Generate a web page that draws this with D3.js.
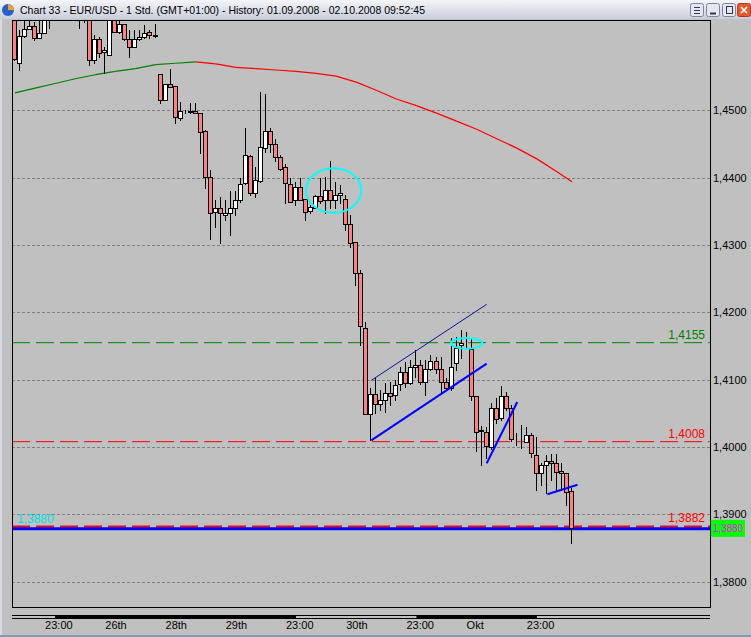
<!DOCTYPE html>
<html>
<head>
<meta charset="utf-8">
<script src="https://cdn.jsdelivr.net/npm/d3@7"></script>
<style>
html, body { margin: 0; padding: 0; background: #c0c0c0; overflow: hidden; }
svg { display: block; }
text { font-family: "Liberation Sans", Arial, sans-serif; }
</style>
</head>
<body>
<svg id="chart"></svg>
<script>
// hourly EUR/USD candles (index 0 = left edge)
const openP = [1.4649,1.4570,1.4611,1.4621,1.4625,1.4608,1.4615,1.4660,1.4652,1.4665,
  1.4680,1.4668,1.4655,1.4645,1.4640,1.4650,1.4575,1.4606,1.4587,1.4582,
  1.4645,1.4616,1.4628,1.4606,1.4594,1.4606,1.4609,1.4616,1.4612,1.4554,
  1.4515,1.4539,1.4536,1.4489,1.4498,1.4498,1.4499,1.4496,1.4469,1.4401,
  1.4349,1.4355,1.4345,1.4348,1.4355,1.4367,1.4392,1.4432,1.4377,1.4395,
  1.4444,1.4469,1.4450,1.4431,1.4416,1.4391,1.4367,1.4386,1.4368,1.4350,
  1.4355,1.4373,1.4367,1.4382,1.4367,1.4374,1.4368,1.4331,1.4304,1.4258,
  1.4177,1.4049,1.4079,1.4064,1.4070,1.4080,1.4077,1.4093,1.4111,1.4095,
  1.4119,1.4122,1.4096,1.4116,1.4128,1.4116,1.4096,1.4087,1.4125,1.4151,
  1.4154,1.4145,1.4076,1.4025,1.4022,1.4000,1.4058,1.4043,1.4076,1.4058,
  1.4007,1.4008,1.4007,1.4018,1.3988,1.3961,1.3973,1.3979,1.3976,1.3964,
  1.3961,1.3934];
const highP = [1.4657,1.4619,1.4642,1.4640,1.4631,1.4649,1.4657,1.4668,1.4672,1.4688,
  1.4695,1.4675,1.4662,1.4655,1.4660,1.4658,1.4612,1.4609,1.4594,1.4655,
  1.4650,1.4637,1.4628,1.4619,1.4619,1.4619,1.4627,1.4619,1.4628,1.4554,
  1.4539,1.4562,1.4536,1.4512,1.4500,1.4511,1.4511,1.4496,1.4471,1.4411,
  1.4367,1.4371,1.4367,1.4380,1.4380,1.4400,1.4474,1.4434,1.4416,1.4527,
  1.4524,1.4474,1.4458,1.4434,1.4420,1.4400,1.4394,1.4400,1.4368,1.4359,
  1.4374,1.4400,1.4401,1.4425,1.4394,1.4389,1.4374,1.4345,1.4304,1.4263,
  1.4186,1.4087,1.4102,1.4085,1.4095,1.4096,1.4099,1.4119,1.4126,1.4129,
  1.4144,1.4129,1.4129,1.4137,1.4134,1.4134,1.4102,1.4162,1.4163,1.4174,
  1.4171,1.4162,1.4076,1.4031,1.4030,1.4065,1.4073,1.4090,1.4082,1.4062,
  1.4021,1.4033,1.4030,1.4021,1.4015,1.3977,1.3988,1.3989,1.3989,1.3976,
  1.3961,1.3939];
const lowP = [1.4575,1.4560,1.4609,1.4621,1.4605,1.4608,1.4615,1.4622,1.4645,1.4658,
  1.4662,1.4648,1.4640,1.4622,1.4631,1.4567,1.4570,1.4579,1.4556,1.4582,
  1.4616,1.4615,1.4605,1.4579,1.4594,1.4605,1.4608,1.4608,1.4609,1.4511,
  1.4515,1.4535,1.4481,1.4486,1.4496,1.4496,1.4496,1.4437,1.4385,1.4309,
  1.4327,1.4303,1.4337,1.4315,1.4345,1.4364,1.4391,1.4374,1.4371,1.4394,
  1.4438,1.4438,1.4425,1.4411,1.4362,1.4364,1.4359,1.4367,1.4337,1.4348,
  1.4355,1.4362,1.4348,1.4355,1.4355,1.4362,1.4322,1.4297,1.4241,1.4151,
  1.4049,1.4010,1.4050,1.4055,1.4052,1.4062,1.4070,1.4085,1.4089,1.4093,
  1.4104,1.4093,1.4077,1.4114,1.4110,1.4080,1.4085,1.4085,1.4114,1.4132,
  1.4148,1.4070,1.3994,1.3974,1.3983,1.3997,1.4035,1.4040,1.4055,1.4009,
  1.4003,1.3998,1.4007,1.3985,1.3936,1.3943,1.3931,1.3951,1.3936,1.3936,
  1.3914,1.3857];
const closeP = [1.4576,1.4611,1.4621,1.4625,1.4608,1.4615,1.4649,1.4652,1.4665,1.4680,
  1.4668,1.4655,1.4645,1.4640,1.4652,1.4575,1.4606,1.4585,1.4590,1.4645,
  1.4616,1.4628,1.4606,1.4594,1.4606,1.4609,1.4615,1.4612,1.4611,1.4515,
  1.4539,1.4535,1.4490,1.4499,1.4498,1.4499,1.4496,1.4468,1.4401,1.4348,
  1.4355,1.4348,1.4348,1.4355,1.4367,1.4391,1.4434,1.4377,1.4397,1.4446,
  1.4469,1.4450,1.4431,1.4413,1.4392,1.4364,1.4386,1.4367,1.4349,1.4356,
  1.4373,1.4365,1.4382,1.4367,1.4374,1.4377,1.4331,1.4303,1.4258,1.4180,
  1.4049,1.4079,1.4064,1.4070,1.4080,1.4076,1.4092,1.4111,1.4095,1.4119,
  1.4122,1.4096,1.4116,1.4128,1.4116,1.4096,1.4087,1.4119,1.4147,1.4154,
  1.4155,1.4076,1.4022,1.4024,1.4001,1.4058,1.4041,1.4076,1.4058,1.4012,
  1.4008,1.4007,1.4018,1.3991,1.3961,1.3973,1.3979,1.3976,1.3963,1.3961,
  1.3933,1.3880];

// moving average, sampled every few bars
const maIdx = [0,4,8,12,16,20,24,28,32,36,40,44,48,52,56,60,64,68,72,76,80,84,88,92,96,100,104,108,111];
const maVal = [1.4526,1.4533,1.4540,1.4547,1.4553,1.4558,1.4562,1.4568,1.4570,1.4572,
  1.4569,1.4564,1.4562,1.4560,1.4558,1.4555,1.4551,1.4542,1.4530,1.4517,
  1.4507,1.4496,1.4484,1.4472,1.4458,1.4444,1.4428,1.4409,1.4394];

const gridPrices = [1.38,1.39,1.40,1.41,1.42,1.43,1.44,1.45];
const tickIdx = [6,18,30,42,54,66,78,90,102];
const tickLabels = ["23:00","26th","28th","29th","23:00","30th","23:00","Okt","23:00"];

const levelPrices = [1.4155,1.4008,1.3882];
const levelLabels = ["1,4155","1,4008","1,3882"];
const supportPrice = 1.3880;

// drawn trend lines: [startIdx, startPrice, endIdx, endPrice]
const channelTop = [71,1.4099,94,1.4212];
const trendLines = [[71,1.4010,94,1.4124],[94,1.3976,100.1,1.4067],[106.1,1.3930,112.1,1.3944]];
// marked areas: [centerIdx, centerPrice, halfWidthBars, halfHeightPrice]
const marks = [[63.5,1.4381,5.5,0.0033],[90,1.4154,3.1,0.0008]];

const dayBands = [[8,56],[80,104]];

const title = "Chart 33 - EUR/USD - 1 Std. (GMT+01:00) - History: 01.09.2008 - 02.10.2008 09:52:45";

const W = 751, H = 637;
const P = {l: 12, t: 20, r: 710, b: 607};
const svg = d3.select("#chart").attr("width", W).attr("height", H);

const x = d3.scaleLinear().domain([0, openP.length - 1]).range([15, 572]);
const y = d3.scaleLinear().domain([1.38, 1.45]).range([581.7, 110.4]);
const fmt = p => d3.format(".4f")(p).replace(".", ",");

svg.append("rect").attr("width", W).attr("height", H).attr("fill", "#c0c0c0");

// title bar
const grad = svg.append("defs").append("linearGradient").attr("id", "tb")
    .attr("x1", 0).attr("y1", 0).attr("x2", 0).attr("y2", 1);
grad.append("stop").attr("offset", "0%").attr("stop-color", "#f4f5f9");
grad.append("stop").attr("offset", "100%").attr("stop-color", "#c9cedb");
svg.append("rect").attr("width", W).attr("height", 19).attr("fill", "url(#tb)");
svg.append("circle").attr("cx", 8).attr("cy", 10).attr("r", 6).attr("fill", "#2a5fc8");
svg.append("path").attr("d", "M8,10 L8,4 A6,6 0 0,1 14,10 Z").attr("fill", "#f0a030");
svg.append("text").attr("x", 20).attr("y", 14).attr("font-size", 11)
    .attr("textLength", 405).attr("lengthAdjust", "spacingAndGlyphs")
    .attr("fill", "#000").text(title);

const btnX = [690, 706, 722, 737];
btnX.forEach((bx, k) => {
    svg.append("rect").attr("x", bx + 0.5).attr("y", 3.5).attr("width", 13).attr("height", 13)
        .attr("rx", 2).attr("fill", k === 3 ? "#e8582e" : "#e4e7ef")
        .attr("stroke", k === 3 ? "#b03a1a" : "#7c84a0");
});
svg.append("path").attr("d", "M694,7.5h6M694,10.5h6M694,13.5h6").attr("stroke", "#303850");
svg.append("path").attr("d", "M710,13.5h6").attr("stroke", "#303850").attr("stroke-width", 2);
svg.append("rect").attr("x", 726.5).attr("y", 6.5).attr("width", 6).attr("height", 7)
    .attr("fill", "none").attr("stroke", "#303850");
svg.append("path").attr("d", "M741,7L747,13M747,7L741,13").attr("stroke", "#fff").attr("stroke-width", 1.6);

// window edges
svg.append("rect").attr("x", 0).attr("y", 19).attr("width", 2).attr("height", H - 19).attr("fill", "#d8dbe4");
svg.append("rect").attr("x", 0).attr("y", H - 2).attr("width", W).attr("height", 2).attr("fill", "#7f9db9");

// plot
svg.append("defs").append("clipPath").attr("id", "clip")
    .append("rect").attr("x", P.l).attr("y", P.t).attr("width", P.r - P.l).attr("height", P.b - P.t);
const g = svg.append("g").attr("clip-path", "url(#clip)");

g.selectAll(".grid").data(gridPrices).enter().append("line")
    .attr("x1", P.l).attr("x2", P.r)
    .attr("y1", d => Math.round(y(d)) + 0.5).attr("y2", d => Math.round(y(d)) + 0.5)
    .attr("stroke", "#808080").attr("stroke-dasharray", "3,2");

// moving average, green while rising, red while falling
const maPts = maIdx.map((d, k) => [x(d), y(maVal[k])]);
g.selectAll(".ma").data(d3.pairs(maPts)).enter().append("line")
    .attr("x1", d => d[0][0]).attr("y1", d => d[0][1])
    .attr("x2", d => d[1][0]).attr("y2", d => d[1][1])
    .attr("stroke", d => d[1][1] <= d[0][1] ? "#008000" : "#ff0000")
    .attr("stroke-width", 1.2);

// horizontal levels
const levelColor = ["#008000", "#ff0000", "#ff0000"];
const levelWidth = [1, 1, 2];
levelPrices.forEach((p, k) => {
    g.append("line").attr("x1", P.l).attr("x2", P.r)
        .attr("y1", y(p)).attr("y2", y(p))
        .attr("stroke", levelColor[k]).attr("stroke-width", levelWidth[k])
        .attr("stroke-dasharray", "18,6");
});
g.append("line").attr("x1", P.l).attr("x2", P.r)
    .attr("y1", y(supportPrice) + 1).attr("y2", y(supportPrice) + 1)
    .attr("stroke", "#0000ff").attr("stroke-width", 3);

// candles
const idx = d3.range(openP.length);
const cx = i => Math.round(x(i));
g.selectAll(".wick").data(idx).enter().append("line")
    .attr("x1", i => cx(i) - 0.5).attr("x2", i => cx(i) - 0.5)
    .attr("y1", i => Math.round(y(highP[i]))).attr("y2", i => Math.round(y(lowP[i])) + 1)
    .attr("stroke", "#000");
g.selectAll(".body").data(idx).enter().append("rect")
    .attr("x", i => cx(i) - 2.5)
    .attr("y", i => Math.round(y(Math.max(openP[i], closeP[i]))) + 0.5)
    .attr("width", 4)
    .attr("height", i => Math.round(y(Math.min(openP[i], closeP[i]))) - Math.round(y(Math.max(openP[i], closeP[i]))))
    .attr("fill", i => closeP[i] >= openP[i] ? "#ffffff" : "#ff8080")
    .attr("stroke", "#000");

// trend lines and marks
g.append("line")
    .attr("x1", x(channelTop[0])).attr("y1", y(channelTop[1]))
    .attr("x2", x(channelTop[2])).attr("y2", y(channelTop[3]))
    .attr("stroke", "#1010a0").attr("stroke-width", 1);
g.selectAll(".trend").data(trendLines).enter().append("line")
    .attr("x1", d => x(d[0])).attr("y1", d => y(d[1]))
    .attr("x2", d => x(d[2])).attr("y2", d => y(d[3]))
    .attr("stroke", "#0000ff").attr("stroke-width", 2);
g.selectAll(".mark").data(marks).enter().append("ellipse")
    .attr("cx", d => x(d[0])).attr("cy", d => y(d[1]))
    .attr("rx", d => x(d[0] + d[2]) - x(d[0]))
    .attr("ry", d => y(d[1] - d[3]) - y(d[1]))
    .attr("fill", "none").attr("stroke", "#00ffff").attr("stroke-width", 2);

// level labels
levelPrices.forEach((p, k) => {
    g.append("text").attr("x", 705).attr("y", y(p) - 4).attr("text-anchor", "end")
        .attr("font-size", 12).attr("fill", levelColor[k]).text(levelLabels[k]);
});
g.append("text").attr("x", 17).attr("y", y(supportPrice) - 5)
    .attr("font-size", 12).attr("fill", "#00e0e0").text(fmt(supportPrice));

// frame
svg.append("rect").attr("x", P.l + 0.5).attr("y", P.t + 0.5)
    .attr("width", P.r - P.l).attr("height", P.b - P.t)
    .attr("fill", "none").attr("stroke", "#000");

// price axis
svg.selectAll(".ylab").data(gridPrices).enter().append("text")
    .attr("x", 713).attr("y", d => y(d) + 4).attr("font-size", 11)
    .attr("fill", "#000").text(fmt);
const last = closeP[closeP.length - 1];
svg.append("rect").attr("x", 711).attr("y", y(last) - 8).attr("width", 34).attr("height", 17)
    .attr("fill", "#00ff00");
svg.append("text").attr("x", 713).attr("y", y(last) + 4.5).attr("font-size", 11)
    .attr("textLength", 30).attr("lengthAdjust", "spacingAndGlyphs")
    .attr("fill", "#ff00ff").text(fmt(last));

// time axis
svg.append("path").attr("d", `M${P.l},615.5H${P.r}M${P.l},618.5H${P.r}`).attr("stroke", "#000");
svg.selectAll(".band").data(dayBands).enter().append("rect")
    .attr("x", d => x(d[0])).attr("y", 615).attr("width", d => x(d[1]) - x(d[0]))
    .attr("height", 4).attr("fill", "#000");
svg.selectAll(".xlab").data(tickIdx).enter().append("text")
    .attr("x", d => x(d)).attr("y", 629).attr("font-size", 11)
    .attr("fill", "#000").text((d, k) => tickLabels[k]);
</script>
</body>
</html>
